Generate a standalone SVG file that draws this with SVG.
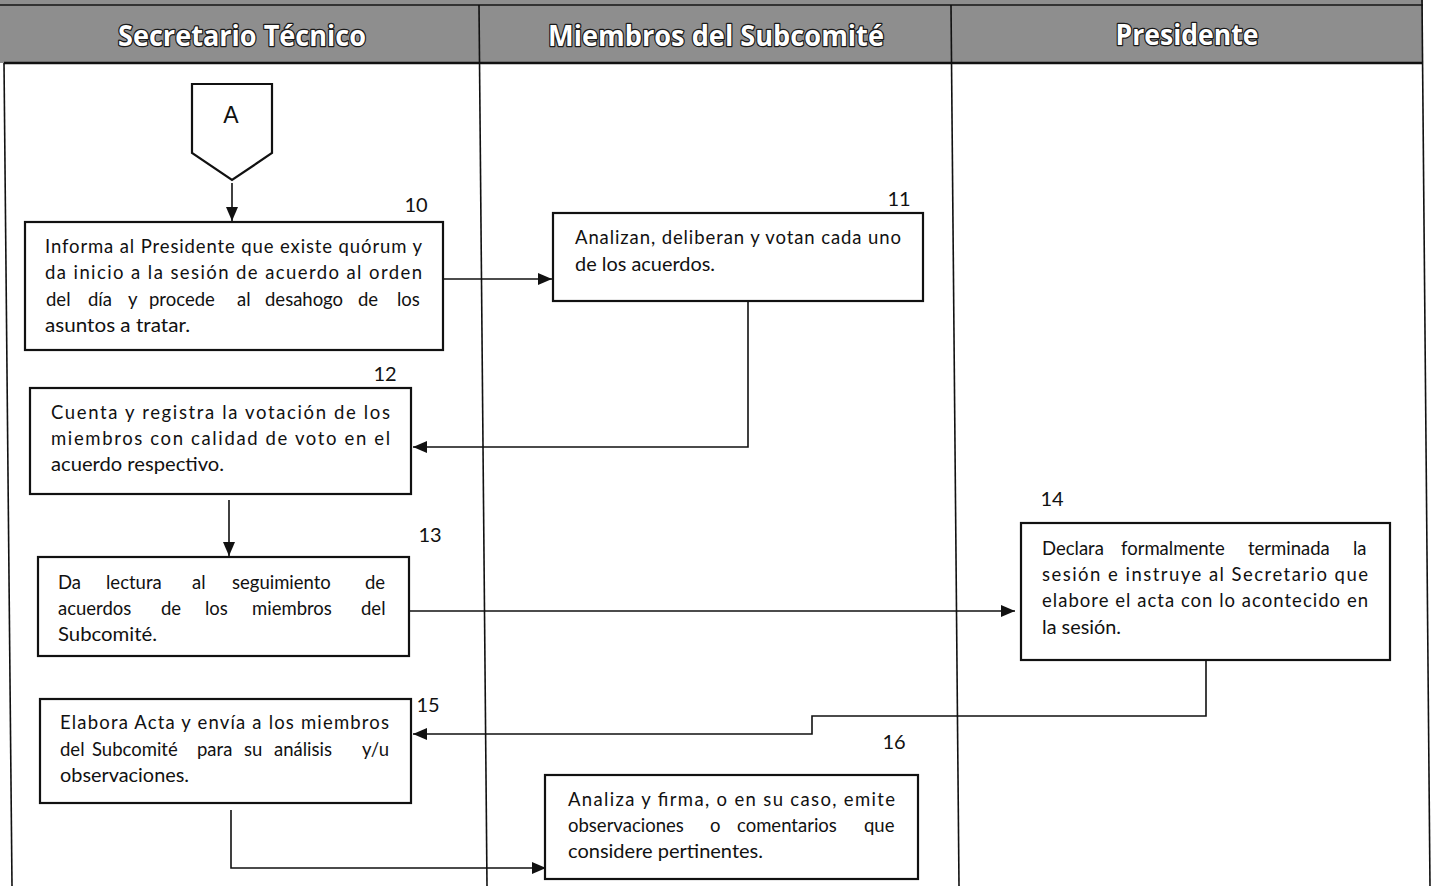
<svg xmlns="http://www.w3.org/2000/svg" width="1431" height="886" viewBox="0 0 1431 886">
<style>
.hdr{font-family:"Open Sans","Liberation Sans",sans-serif;font-weight:bold;font-size:29px;fill:#fff;stroke:#1a1a1a;stroke-width:2.6px;paint-order:stroke;stroke-linejoin:round;text-anchor:middle}
.box{fill:#fff;stroke:#111;stroke-width:2.2}
.t{font-family:Lato,"Liberation Sans",sans-serif;font-size:18.5px;fill:#111}
.n{font-family:Lato,"Liberation Sans",sans-serif;font-size:20px;fill:#111;text-anchor:middle}
.lane{stroke:#111;stroke-width:1.6;fill:none}
.c{stroke:#111;stroke-width:1.6;fill:none;marker-end:url(#ah)}
</style>
<defs>
<marker id="ah" viewBox="0 0 14 12" refX="14" refY="6" markerWidth="14" markerHeight="12" markerUnits="userSpaceOnUse" orient="auto">
<path d="M0,0 L14,6 L0,12 Z" fill="#111"/>
</marker>
</defs>
<rect x="0" y="0" width="1431" height="886" fill="#fff"/>
<g id="header">
<rect x="0" y="0" width="1423" height="63" fill="#8e8e8e"/>
<line x1="0" y1="5" x2="1423" y2="5" stroke="#333" stroke-width="2"/>
<line x1="4" y1="63" x2="1423" y2="63" stroke="#111" stroke-width="2.5"/>
<text class="hdr" x="242" y="46" textLength="248" lengthAdjust="spacingAndGlyphs">Secretario Técnico</text>
<text class="hdr" x="716" y="46" textLength="336" lengthAdjust="spacingAndGlyphs">Miembros del Subcomité</text>
<text class="hdr" x="1187" y="45" textLength="143" lengthAdjust="spacingAndGlyphs">Presidente</text>
</g>
<g id="lanes">
<line class="lane" x1="4" y1="63" x2="12" y2="886"/>
<line class="lane" x1="479" y1="5" x2="487" y2="886"/>
<line class="lane" x1="951" y1="5" x2="959" y2="886"/>
<line class="lane" x1="1422" y1="0" x2="1430" y2="886"/>
</g>
<g id="connectors">
<line class="c" x1="232" y1="183" x2="232" y2="221"/>
<line class="c" x1="443" y1="279" x2="552" y2="279"/>
<polyline class="c" points="748,301 748,447 413,447"/>
<line class="c" x1="229" y1="500" x2="229" y2="556"/>
<line class="c" x1="410" y1="611" x2="1015" y2="611"/>
<polyline class="c" points="1206,660 1206,716 812,716 812,734 413,734"/>
<polyline class="c" points="231,810 231,868 546,868"/>
</g>
<g id="nodeA">
<polygon class="box" points="192,84 272,84 272,153 232,180 192,153"/>
<text x="231" y="123" font-family="Liberation Sans,Arial,sans-serif" font-size="23" text-anchor="middle" fill="#111">A</text>
</g>
<g id="n10">
<rect class="box" x="25" y="222" width="418" height="128"/>
<text class="n" x="416" y="212">10</text>
<text class="t" x="45" y="253" textLength="377" lengthAdjust="spacing">Informa al Presidente que existe quórum y</text>
<text class="t" x="45" y="279" textLength="377" lengthAdjust="spacing">da inicio a la sesión de acuerdo al orden</text>
<text class="t" y="306"><tspan x="46">del </tspan><tspan x="88">día </tspan><tspan x="128">y </tspan><tspan x="149">procede </tspan><tspan x="237">al </tspan><tspan x="265">desahogo </tspan><tspan x="358">de </tspan><tspan x="397">los</tspan></text>
<text class="t" x="45" y="332" textLength="145" lengthAdjust="spacingAndGlyphs">asuntos a tratar.</text>
</g>
<g id="n11">
<rect class="box" x="553" y="213" width="370" height="88"/>
<text class="n" x="899" y="206">11</text>
<text class="t" x="575" y="244" textLength="326" lengthAdjust="spacing">Analizan, deliberan y votan cada uno</text>
<text class="t" x="575" y="271" textLength="140" lengthAdjust="spacingAndGlyphs">de los acuerdos.</text>
</g>
<g id="n12">
<rect class="box" x="30" y="388" width="381" height="106"/>
<text class="n" x="385" y="381">12</text>
<text class="t" x="51" y="419" textLength="339" lengthAdjust="spacing">Cuenta y registra la votación de los</text>
<text class="t" x="51" y="445" textLength="339" lengthAdjust="spacing">miembros con calidad de voto en el</text>
<text class="t" x="51" y="471" textLength="173" lengthAdjust="spacingAndGlyphs">acuerdo respectivo.</text>
</g>
<g id="n13">
<rect class="box" x="38" y="557" width="371" height="99"/>
<text class="n" x="430" y="542">13</text>
<text class="t" y="589"><tspan x="58">Da </tspan><tspan x="106">lectura </tspan><tspan x="192">al </tspan><tspan x="232">seguimiento </tspan><tspan x="365">de</tspan></text>
<text class="t" y="615"><tspan x="58">acuerdos </tspan><tspan x="161">de </tspan><tspan x="205">los </tspan><tspan x="252">miembros </tspan><tspan x="361">del</tspan></text>
<text class="t" x="58" y="641" textLength="99" lengthAdjust="spacingAndGlyphs">Subcomité.</text>
</g>
<g id="n14">
<rect class="box" x="1021" y="523" width="369" height="137"/>
<text class="n" x="1052" y="506">14</text>
<text class="t" y="555"><tspan x="1042">Declara </tspan><tspan x="1121">formalmente </tspan><tspan x="1248">terminada </tspan><tspan x="1353">la</tspan></text>
<text class="t" x="1042" y="581" textLength="326" lengthAdjust="spacing">sesión e instruye al Secretario que</text>
<text class="t" x="1042" y="607" textLength="326" lengthAdjust="spacing">elabore el acta con lo acontecido en</text>
<text class="t" x="1042" y="634" textLength="79" lengthAdjust="spacingAndGlyphs">la sesión.</text>
</g>
<g id="n15">
<rect class="box" x="40" y="699" width="371" height="104"/>
<text class="n" x="428" y="712">15</text>
<text class="t" x="60" y="729" textLength="329" lengthAdjust="spacing">Elabora Acta y envía a los miembros</text>
<text class="t" y="756"><tspan x="60">del </tspan><tspan x="92">Subcomité </tspan><tspan x="197">para </tspan><tspan x="244">su </tspan><tspan x="274">análisis </tspan><tspan x="362">y/u</tspan></text>
<text class="t" x="60" y="782" textLength="129" lengthAdjust="spacingAndGlyphs">observaciones.</text>
</g>
<g id="n16">
<rect class="box" x="545" y="775" width="373" height="104"/>
<text class="n" x="894" y="749">16</text>
<text class="t" x="568" y="806" textLength="327" lengthAdjust="spacing">Analiza y firma, o en su caso, emite</text>
<text class="t" y="832"><tspan x="568">observaciones </tspan><tspan x="710">o </tspan><tspan x="737">comentarios </tspan><tspan x="864">que</tspan></text>
<text class="t" x="568" y="858" textLength="195" lengthAdjust="spacingAndGlyphs">considere pertinentes.</text>
</g>
</svg>
